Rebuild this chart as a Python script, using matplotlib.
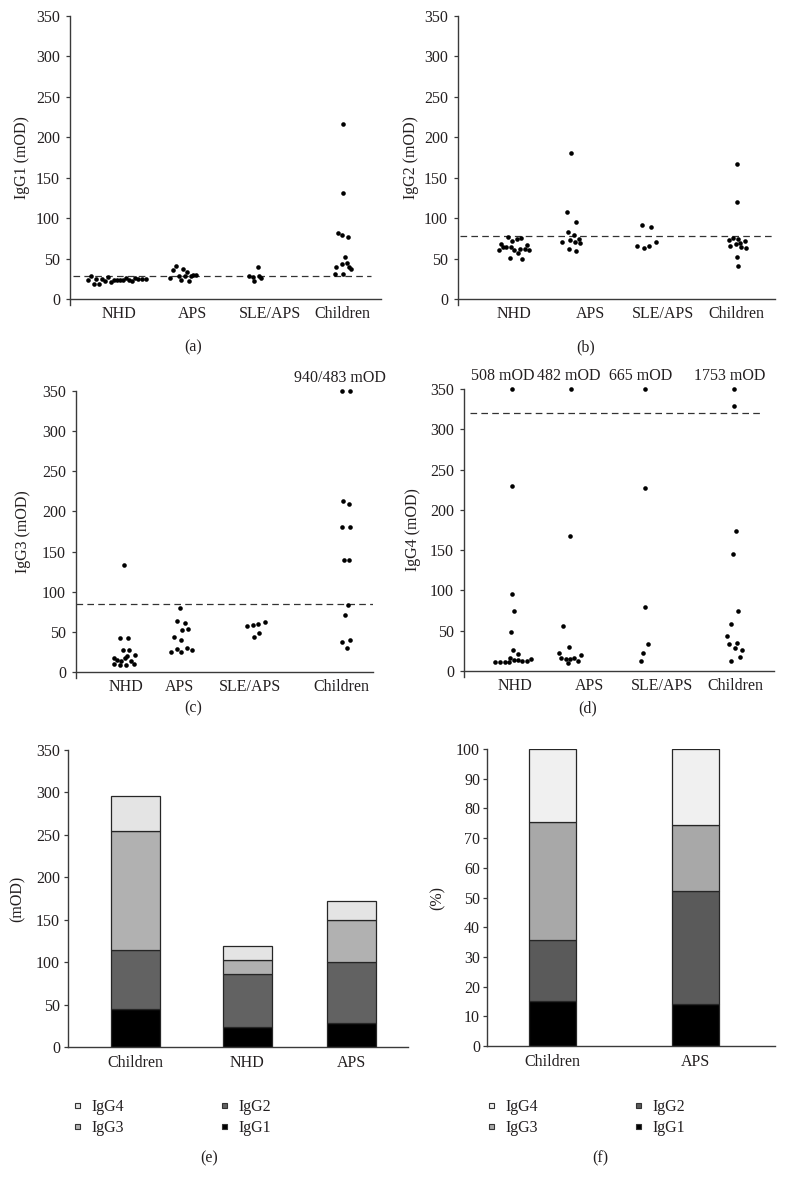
import matplotlib
matplotlib.use("Agg")
import matplotlib.pyplot as plt
import numpy as np
from matplotlib.lines import Line2D

# ---------------- data ----------------
groups = ["NHD", "APS", "SLE/APS", "Children"]

# IgG1 (mOD)
a_nhd = [24, 28, 19, 25, 19, 25, 22, 27, 21, 24, 24, 23, 23, 26, 24, 22, 26, 25, 25, 25]
a_nhd_dx = [-0.39, -0.35, -0.31, -0.28, -0.24, -0.20, -0.16, -0.12, -0.08, -0.04, 0.0, 0.04,
            0.08, 0.12, 0.16, 0.20, 0.24, 0.28, 0.34, 0.39]
a_aps = [26, 36, 41, 29, 24, 37, 28, 33, 22, 29, 30, 30]
a_aps_dx = [-0.18, -0.14, -0.09, -0.05, -0.03, 0.0, 0.03, 0.05, 0.08, 0.11, 0.14, 0.18]
a_sle = [29, 27, 22, 40, 28, 26]
a_sle_dx = [-0.08, -0.03, -0.01, 0.04, 0.05, 0.08]
a_chi = [217, 131, 82, 79, 77, 52, 45, 43, 39, 39, 37, 31, 31]
a_chi_dx = [0.0, 0.0, -0.07, -0.01, 0.07, 0.03, 0.05, -0.01, -0.09, 0.08, 0.11, -0.11, 0.0]

# IgG2 (mOD)
b_nhd = [61, 68, 64, 64, 77, 51, 64, 72, 61, 74, 57, 62, 75, 50, 62, 67, 60]
b_nhd_dx = [-0.19, -0.16, -0.14, -0.09, -0.07, -0.04, -0.03, -0.01, 0.02, 0.05, 0.07, 0.09,
            0.11, 0.12, 0.16, 0.19, 0.22]
b_aps = [180, 108, 95, 71, 83, 73, 79, 70, 74, 69, 62, 59]
b_aps_dx = [-0.01, -0.07, 0.05, -0.13, -0.05, -0.03, 0.03, 0.04, 0.09, 0.11, -0.04, 0.06]
b_sle = [91, 89, 65, 63, 66, 71]
b_sle_dx = [-0.05, 0.07, -0.12, -0.03, 0.04, 0.14]
b_chi = [167, 120, 73, 75, 74, 72, 66, 68, 69, 64, 63, 52, 41]
b_chi_dx = [0.0, 0.0, -0.11, -0.05, 0.01, 0.11, -0.09, -0.02, 0.04, 0.06, 0.12, 0.0, 0.01]

# IgG3 (mOD)
c_nhd = [133, 42, 42, 27, 28, 21, 18, 15, 14, 18, 20, 14, 10, 9, 9, 10]
c_nhd_dx = [0.0, -0.06, 0.06, -0.02, 0.07, 0.15, -0.14, -0.09, -0.04, 0.01, 0.04, 0.09,
            -0.13, -0.05, 0.03, 0.14]
c_aps = [80, 64, 61, 52, 54, 44, 40, 25, 29, 25, 30, 27]
c_aps_dx = [-0.02, -0.06, 0.05, 0.01, 0.09, -0.09, 0.0, -0.13, -0.06, 0.0, 0.08, 0.15]
c_sle = [57, 59, 60, 62, 44, 49]
c_sle_dx = [-0.12, -0.04, 0.03, 0.12, -0.03, 0.04]
c_chi = [940, 483, 213, 209, 180, 180, 140, 140, 84, 71, 37, 40, 30]
c_chi_dx = [-0.06, 0.06, -0.04, 0.04, -0.06, 0.06, -0.03, 0.04, 0.03, -0.02, -0.06, 0.06, 0.01]

# IgG4 (mOD)
d_nhd = [508, 230, 96, 74, 49, 26, 21, 11, 11, 11, 11, 16, 14, 14, 12, 12, 15]
d_nhd_dx = [0.0, 0.0, 0.0, 0.03, -0.02, 0.02, 0.08, -0.23, -0.16, -0.09, -0.04, -0.03, 0.03,
            0.08, 0.14, 0.20, 0.25]
d_aps = [482, 168, 56, 30, 22, 16, 15, 10, 15, 16, 13, 20]
d_aps_dx = [0.02, 0.0, -0.09, -0.01, -0.15, -0.12, -0.06, -0.03, 0.0, 0.05, 0.11, 0.15]
d_sle = [665, 227, 80, 33, 22, 12]
d_sle_dx = [0.0, 0.0, 0.0, 0.04, -0.03, -0.06]
d_chi = [1753, 329, 174, 145, 75, 58, 43, 34, 35, 29, 26, 12, 17]
d_chi_dx = [0.0, 0.0, 0.03, -0.02, 0.05, -0.04, -0.10, -0.07, 0.04, 0.01, 0.11, -0.04, 0.08]

cutoffs = [29, 78, 85, 320]
ylabels = ["IgG1 (mOD)", "IgG2 (mOD)", "IgG3 (mOD)", "IgG4 (mOD)"]
panel_letters = ["(a)", "(b)", "(c)", "(d)", "(e)", "(f)"]

# stacked bars
subclasses = ["IgG1", "IgG2", "IgG3", "IgG4"]
e_groups = ["Children", "NHD", "APS"]
e_igg1 = [45, 23, 28]
e_igg2 = [69, 63, 72]
e_igg3 = [140, 17, 50]
e_igg4 = [42, 16, 22]
f_groups = ["Children", "APS"]
f_igg1 = [15.3, 14.0]
f_igg2 = [20.3, 38.2]
f_igg3 = [39.7, 22.3]
f_igg4 = [24.7, 25.5]

# ---------------- style ----------------
W, H = 786, 1177
TXT = "#231f20"
AXC = "#3a3a3a"
plt.rcParams["font.family"] = ["Liberation Serif", "DejaVu Serif"]
plt.rcParams["font.size"] = 11.5
plt.rcParams["text.color"] = TXT
plt.rcParams["axes.labelcolor"] = TXT
plt.rcParams["xtick.color"] = AXC
plt.rcParams["ytick.color"] = AXC
plt.rcParams["xtick.labelcolor"] = TXT
plt.rcParams["ytick.labelcolor"] = TXT

fig = plt.figure(figsize=(W / 100, H / 100), dpi=100)

CAT = 74.0   # px per category unit for the jitter
YMAX = 350
EXT = 8      # left spine runs a little below zero


def add_px_axes(left, top, right, bottom):
    return fig.add_axes([left / W, 1 - bottom / H, (right - left) / W, (bottom - top) / H])


def style_spines(ax):
    for s in ["top", "right"]:
        ax.spines[s].set_visible(False)
    for s in ["left", "bottom"]:
        ax.spines[s].set_color(AXC)
        ax.spines[s].set_linewidth(1.0)


def dot_panel(left, right, top, zero, centres, label_pos, vals, dxs, cutoff, dash_span,
              ylabel, ylabel_x, ann_pos=None, ann_texts=None):
    scale = (zero - top) / YMAX
    ax = add_px_axes(left, top, right, zero + EXT * scale)
    ax.set_xlim(0, right - left)
    ax.set_ylim(-EXT, YMAX)
    style_spines(ax)
    ax.spines["bottom"].set_position(("data", 0))
    for c, v, dx in zip(centres, vals, dxs):
        x = c + np.array(dx) * CAT
        y = np.minimum(np.array(v, dtype=float), YMAX)
        ax.plot(x, y, "o", ms=3.3, color="black", mew=0, clip_on=False, zorder=3)
    ax.axhline(cutoff, xmin=dash_span[0], xmax=dash_span[1], color="#333333", lw=0.9,
               dashes=(5.3, 3.4), zorder=2)
    ax.set_yticks(np.arange(0, 351, 50))
    ax.tick_params(axis="y", length=3.2, width=0.9, pad=4.0, direction="out")
    ax.set_xticks(label_pos)
    ax.set_xticklabels(groups)
    ax.tick_params(axis="x", length=0, pad=5.0)
    ax.set_ylabel(ylabel)
    ax.yaxis.set_label_coords(ylabel_x, 0.5 + EXT / (YMAX + EXT) / 2)
    if ann_pos is not None:
        for xp, t in zip(ann_pos, ann_texts):
            ax.text(xp, 366, t, ha="center", va="center", clip_on=False)
    return ax


# (a) IgG1
dot_panel(70, 381, 16, 299, [47, 113, 185, 273], [49, 122, 200, 272],
          [a_nhd, a_aps, a_sle, a_chi], [a_nhd_dx, a_aps_dx, a_sle_dx, a_chi_dx],
          cutoffs[0], (0.01, 0.968), ylabels[0], -0.129)
# (b) IgG2
dot_panel(458, 775, 16, 299, [55, 114, 188, 279], [56, 132, 205, 278],
          [b_nhd, b_aps, b_sle, b_chi], [b_nhd_dx, b_aps_dx, b_sle_dx, b_chi_dx],
          cutoffs[1], (0.006, 0.994), ylabels[1], -0.123)
# (c) IgG3
c_top = [v for v in c_chi if v > YMAX]
dot_panel(76, 373, 391, 672, [48, 105, 180, 270], [50, 103, 174, 265],
          [c_nhd, c_aps, c_sle, c_chi], [c_nhd_dx, c_aps_dx, c_sle_dx, c_chi_dx],
          cutoffs[2], (0.0, 1.0), ylabels[2], -0.152,
          ann_pos=[264], ann_texts=["/".join(str(v) for v in c_top) + " mOD"])
# (d) IgG4
d_groups_vals = [d_nhd, d_aps, d_sle, d_chi]
d_tops = [max(v) for v in d_groups_vals]
dot_panel(464, 774, 389, 671, [48, 106, 181, 270], [51, 125, 198, 271],
          d_groups_vals, [d_nhd_dx, d_aps_dx, d_sle_dx, d_chi_dx],
          cutoffs[3], (0.019, 0.955), ylabels[3], -0.139,
          ann_pos=[39, 105, 177, 266], ann_texts=[f"{v} mOD" for v in d_tops])


def bar_panel(left, right, top, bottom, centres, width, cats, layers, colors, ymax, ystep,
              ylabel, ylabel_x, tick_pad):
    ax = add_px_axes(left, top, right, bottom)
    ax.set_xlim(0, right - left)
    ax.set_ylim(0, ymax)
    style_spines(ax)
    base = np.zeros(len(cats))
    for vals, col in zip(layers, colors):
        ax.bar(centres, vals, width=width, bottom=base, color=col, edgecolor="#262626",
               linewidth=0.9, zorder=2)
        base = base + np.array(vals)
    ax.set_yticks(np.arange(0, ymax + 0.1, ystep))
    ax.tick_params(axis="y", length=3.2, width=0.9, pad=tick_pad, direction="out")
    ax.set_xticks(centres)
    ax.set_xticklabels(cats)
    ax.tick_params(axis="x", length=0, pad=6.0)
    ax.set_ylabel(ylabel)
    ax.yaxis.set_label_coords(ylabel_x, 0.5)
    return ax


e_colors = ["#000000", "#626262", "#b1b1b1", "#e4e4e4"]
f_colors = ["#000000", "#5a5a5a", "#a8a8a8", "#f0f0f0"]

ax_e = bar_panel(68, 408, 750, 1047, [67, 179, 283], 49, e_groups,
                 [e_igg1, e_igg2, e_igg3, e_igg4], e_colors, 350, 50, "(mOD)", -0.124, 2.5)
ax_f = bar_panel(487, 775, 749, 1046, [65, 208], 47, f_groups,
                 [f_igg1, f_igg2, f_igg3, f_igg4], f_colors, 100, 10, "(%)", -0.142, 1.8)


def add_legend(colors, x_px, y_px):
    order = [3, 2, 1, 0]
    handles = [Line2D([], [], ls="", marker="s", ms=3.6, mfc=colors[i], mec="#333333",
                      mew=0.8) for i in order]
    labels = [subclasses[i] for i in order]
    fig.legend(handles, labels, ncol=2, loc="upper left",
               bbox_to_anchor=(x_px / W, 1 - y_px / H), frameon=False, borderpad=0,
               borderaxespad=0, handlelength=0.6, handletextpad=0.6, columnspacing=6.0,
               labelspacing=0.3)


add_legend(e_colors, 72, 1099)
add_legend(f_colors, 486, 1099)

# panel letters
for t, (x, y) in zip(panel_letters, [(193, 347), (586, 347), (193, 708), (588, 708),
                                    (209, 1158), (600, 1158)]):
    fig.text(x / W, 1 - y / H, t, ha="center", va="center")

fig.savefig("out.png", dpi=100)
